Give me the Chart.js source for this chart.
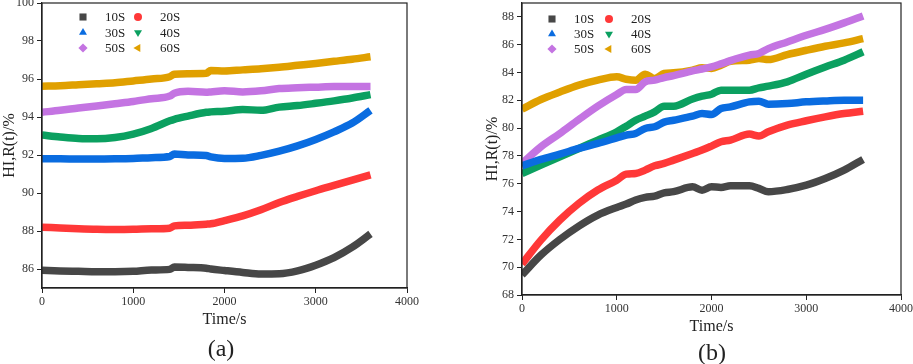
<!DOCTYPE html>
<html>
<head>
<meta charset="utf-8">
<script src="https://cdn.jsdelivr.net/npm/chart.js@4/dist/chart.umd.min.js"></script>
<style>
body{margin:0;width:913px;height:364px;overflow:hidden;background:#fff;position:relative;font-family:"Liberation Serif",serif}
canvas{position:absolute;top:-10px}
#ca{left:0}
#cb{left:460px}
.tag{position:absolute;font-size:24px;color:#222;transform:translate(-50%,-50%);white-space:nowrap}
</style>
</head>
<body>
<canvas id="ca" width="460" height="374"></canvas>
<canvas id="cb" width="480" height="374"></canvas>
<div class="tag" style="left:221px;top:348px">(a)</div>
<div class="tag" style="left:712px;top:352px">(b)</div>
<script>
// ── HI, R(t) against time, two panels ──

const seriesNames = ['10S','20S','30S','40S','50S','60S'];
const seriesColors = ['#474747','#ff3838','#0a6ce0','#0ba060','#c474e2','#e0a000'];
const markerStyles = ['rect','circle','triangle','triangle','rectRot','triangle'];
const markerRotation = [0,0,0,180,0,-90];

const xTicks = [0,1000,2000,3000,4000];
const yTicksA = [86,88,90,92,94,96,98,100];
const yTicksB = [68,70,72,74,76,78,80,82,84,86,88];

// panel (a)
const timeA = [0,200,400,600,800,1000,1200,1400,1450,1600,1800,1850,2000,2200,2400,2600,2800,3000,3200,3400,3600];
const a10 = [85.93,85.9,85.88,85.86,85.86,85.88,85.95,85.98,86.1,86.08,86.04,86.0,85.92,85.82,85.74,85.75,85.9,86.2,86.6,87.15,87.85];
const a20 = [88.2,88.16,88.12,88.09,88.08,88.09,88.12,88.15,88.27,88.3,88.36,88.38,88.55,88.8,89.12,89.5,89.82,90.12,90.4,90.68,90.95];
const a30 = [91.8,91.8,91.79,91.79,91.8,91.82,91.86,91.92,92.05,92.0,91.97,91.9,91.82,91.83,91.98,92.2,92.48,92.82,93.22,93.68,94.35];
const a40 = [93.05,92.95,92.87,92.85,92.92,93.1,93.4,93.8,93.88,94.05,94.25,94.27,94.3,94.4,94.35,94.52,94.6,94.72,94.85,95.0,95.18];
const a50 = [94.25,94.35,94.47,94.58,94.7,94.82,94.96,95.1,95.25,95.35,95.3,95.32,95.38,95.32,95.38,95.5,95.54,95.57,95.6,95.6,95.6];
const a60 = [95.62,95.65,95.7,95.75,95.8,95.9,96.0,96.12,96.25,96.28,96.3,96.45,96.42,96.48,96.54,96.62,96.72,96.82,96.93,97.04,97.17];

// panel (b)
const timeB = [0,200,400,600,800,1000,1100,1200,1300,1400,1500,1600,1800,1900,2000,2100,2200,2400,2500,2600,2800,3000,3200,3400,3600];
const b10 = [69.44,70.87,72.0,72.96,73.75,74.3,74.54,74.83,75.02,75.11,75.35,75.43,75.78,75.54,75.78,75.74,75.86,75.86,75.67,75.43,75.59,75.9,76.38,76.98,77.75];
const b20 = [70.23,71.95,73.39,74.59,75.55,76.26,76.69,76.74,76.98,77.29,77.46,77.7,78.18,78.42,78.71,79.02,79.14,79.57,79.43,79.74,80.22,80.53,80.81,81.05,81.22];
const b30 = [77.29,77.75,78.13,78.54,78.9,79.3,79.5,79.62,79.98,80.1,80.43,80.57,80.86,81.05,80.98,81.41,81.53,81.89,81.94,81.72,81.77,81.89,81.96,82.01,82.01];
const b40 = [76.74,77.34,77.94,78.54,79.14,79.74,80.14,80.57,80.86,81.17,81.58,81.58,82.1,82.3,82.44,82.73,82.73,82.73,82.9,83.02,83.33,83.88,84.4,84.89,85.49];
const b50 = [77.46,78.66,79.62,80.62,81.58,82.42,82.78,82.78,83.33,83.45,83.64,83.78,84.12,84.25,84.4,84.62,84.86,85.25,85.37,85.72,86.2,86.68,87.1,87.57,88.07];
const b60 = [81.37,82.06,82.6,83.09,83.45,83.69,83.52,83.45,83.88,83.57,83.93,83.98,84.17,84.34,84.29,84.53,84.81,84.89,85.0,84.93,85.29,85.6,85.89,86.13,86.44];

const ink = '#222';
const tickFont = { family: 'Liberation Serif', size: 12, weight: 'normal' };
const titleFont = { family: 'Liberation Serif', size: 16, weight: 'normal' };

const frameAndKey = {
  id: 'frameAndKey',
  afterDraw(chart, args, opts) {
    const { ctx, chartArea: a } = chart;
    ctx.save();
    ctx.strokeStyle = ink;
    ctx.lineWidth = 1.2;
    ctx.strokeRect(a.left, a.top, a.right - a.left, a.bottom - a.top);
    ctx.font = '13px "Liberation Serif"';
    ctx.textBaseline = 'middle';
    ctx.textAlign = 'left';
    chart.data.datasets.forEach((ds, i) => {
      const x = a.left + opts.x + (i % 2) * opts.colGap;
      const y = a.top + opts.y + Math.floor(i / 2) * opts.rowGap;
      ctx.fillStyle = ds.borderColor;
      ctx.strokeStyle = ds.borderColor;
      const r = ds.keyStyle === 'rect' ? 5 : ds.keyStyle === 'circle' ? 4 : 4.6;
      Chart.helpers.drawPoint(ctx, { pointStyle: ds.keyStyle, rotation: ds.keyRotation, radius: r, borderWidth: 0 }, x, y);
      ctx.fillStyle = ink;
      ctx.fillText(ds.label, x + opts.textGap, y + 1);
    });
    ctx.restore();
  }
};

function makePanel(id, times, values, yMin, yMax, yTicks, layout) {
  const datasets = values.map((vals, i) => ({
    label: seriesNames[i],
    data: times.map((t, k) => ({ x: t, y: vals[k] })),
    borderColor: seriesColors[i],
    backgroundColor: seriesColors[i],
    borderWidth: 7.5,
    borderCapStyle: 'butt',
    borderJoinStyle: 'round',
    pointRadius: 0,
    cubicInterpolationMode: 'monotone',
    keyStyle: markerStyles[i],
    keyRotation: markerRotation[i]
  }));
  return new Chart(document.getElementById(id).getContext('2d'), {
    type: 'line',
    data: { datasets },
    plugins: [frameAndKey],
    options: {
      responsive: false,
      animation: false,
      layout: { padding: layout.padding },
      plugins: {
        legend: { display: false },
        tooltip: { enabled: false },
        frameAndKey: layout.key
      },
      scales: {
        x: {
          type: 'linear', min: 0, max: 4000,
          afterBuildTicks: s => { s.ticks = xTicks.map(v => ({ value: v })); },
          afterFit: s => { s.height = 45; },
          grid: { drawOnChartArea: false, drawTicks: true, tickLength: 5, color: ink },
          border: { display: true, color: ink, width: 1.2 },
          ticks: { font: tickFont, color: '#333', padding: 2, maxRotation: 0, callback: v => String(v) },
          title: { display: true, text: 'Time/s', font: titleFont, color: ink }
        },
        y: {
          type: 'linear', min: yMin, max: yMax,
          afterBuildTicks: s => { s.ticks = yTicks.map(v => ({ value: v })); },
          afterFit: s => { s.width = layout.yWidth; },
          grid: { drawOnChartArea: false, drawTicks: true, tickLength: 5, color: ink },
          border: { display: true, color: ink, width: 1.2 },
          ticks: { font: tickFont, color: '#333', padding: 3, callback: v => String(v) },
          title: { display: true, text: 'HI,R(t)/%', font: titleFont, color: ink, padding: 0 }
        }
      }
    }
  });
}

makePanel('ca', timeA, [a10, a20, a30, a40, a50, a60], 85, 100, yTicksA, {
  padding: { left: 0, right: 53, top: 13, bottom: 31 },
  yWidth: 42,
  key: { x: 41, y: 14, colGap: 55, rowGap: 15.5, textGap: 22 }
});

makePanel('cb', timeB, [b10, b20, b30, b40, b50, b60], 68, 89, yTicksB, {
  padding: { left: 23, right: 39, top: 13, bottom: 24 },
  yWidth: 39,
  key: { x: 30, y: 16, colGap: 57, rowGap: 15, textGap: 22 }
});
</script>
</body>
</html>
